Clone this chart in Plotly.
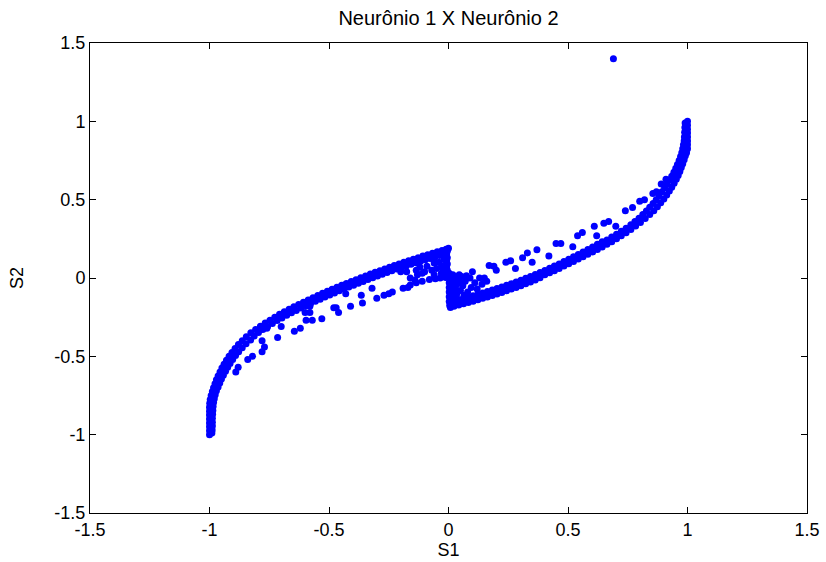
import plotly.graph_objects as go

# ---- Left branch: dense upper edge (row A) ----
left_upper_x = [-1.0, -1.0, -1.0, -1.0, -1.0, -1.0, -1.0, -1.0, -0.999, -0.997, -0.993, -0.988, -0.983, -0.977, -0.971, -0.964, -0.956, -0.948, -0.939, -0.929, -0.918, -0.906, -0.893, -0.879, -0.863, -0.846, -0.827, -0.807, -0.787, -0.767, -0.747, -0.727, -0.707, -0.687, -0.667, -0.647, -0.627, -0.607, -0.587, -0.567, -0.547, -0.527, -0.507, -0.487, -0.467, -0.447, -0.427, -0.407, -0.387, -0.367, -0.347, -0.327, -0.307, -0.287, -0.267, -0.247, -0.227, -0.207, -0.187, -0.167, -0.147, -0.127, -0.107, -0.087, -0.067, -0.047, -0.027, -0.01, 0.0]
left_upper_y = [-1.0, -0.975, -0.95, -0.925, -0.90, -0.875, -0.85, -0.825, -0.80, -0.775, -0.75, -0.725, -0.70, -0.675, -0.65, -0.625, -0.60, -0.575, -0.55, -0.525, -0.50, -0.475, -0.45, -0.425, -0.40, -0.375, -0.35, -0.328, -0.308, -0.288, -0.269, -0.25, -0.232, -0.215, -0.199, -0.184, -0.169, -0.154, -0.14, -0.126, -0.112, -0.098, -0.085, -0.072, -0.059, -0.047, -0.035, -0.023, -0.011, 0.001, 0.013, 0.025, 0.036, 0.047, 0.058, 0.069, 0.08, 0.09, 0.1, 0.11, 0.12, 0.13, 0.14, 0.149, 0.158, 0.167, 0.176, 0.184, 0.19]

# ---- Left branch: inner row of the dense band (row B) ----
left_inner_x = [-0.037, -0.057, -0.077, -0.097, -0.117, -0.137, -0.157, -0.177, -0.197, -0.217, -0.237, -0.257, -0.277, -0.297, -0.317, -0.337, -0.357, -0.377, -0.397, -0.417, -0.437, -0.457, -0.477, -0.497, -0.517, -0.537, -0.557, -0.577, -0.597, -0.617, -0.637, -0.657, -0.677, -0.697, -0.717, -0.737, -0.757, -0.777, -0.795, -0.813,
                -0.828, -0.847, -0.863, -0.878, -0.891, -0.903, -0.914, -0.924, -0.933, -0.942, -0.95, -0.957, -0.964, -0.971, -0.976, -0.98, -0.983, -0.985, -0.986, -0.987, -0.988, -0.988, -0.988, -0.989, -0.99]
left_inner_y = [0.143, 0.134, 0.125, 0.116, 0.107, 0.097, 0.087, 0.077, 0.067, 0.057, 0.046, 0.035, 0.024, 0.013, 0.002, -0.01, -0.022, -0.034, -0.046, -0.058, -0.07, -0.082, -0.095, -0.108, -0.121, -0.135, -0.149, -0.163, -0.177, -0.192, -0.207, -0.222, -0.238, -0.255, -0.272, -0.29, -0.309, -0.328, -0.348, -0.37,
                -0.395, -0.42, -0.445, -0.47, -0.495, -0.52, -0.545, -0.57, -0.595, -0.62, -0.645, -0.67, -0.695, -0.72, -0.745, -0.77, -0.795, -0.82, -0.845, -0.87, -0.895, -0.92, -0.945, -0.97, -0.99]

# ---- Left branch: vertical edge at S1 = 0, lower side and corner cluster ----
left_edge_x = [-0.005, -0.008, -0.005, -0.008, -0.005, -0.008, -0.005, -0.008, -0.005, -0.012, -0.02, -0.018, -0.02, -0.018, -0.025,
               -0.035, -0.055, -0.08, -0.11, -0.135, -0.16, -0.19, -0.235, -0.27, -0.30, -0.36, -0.41, -0.47,
               -0.04, -0.06, -0.05, -0.07, -0.03, -0.1, -0.13, -0.135, -0.175, -0.16, -0.11, -0.03, -0.06, -0.09, -0.12]
left_edge_y = [0.17, 0.15, 0.13, 0.11, 0.09, 0.07, 0.05, 0.03, 0.012, 0.003, 0.16, 0.12, 0.08, 0.04, 0.01,
               0.0, -0.005, -0.01, -0.02, -0.03, -0.045, -0.065, -0.09, -0.11, -0.13, -0.16, -0.18, -0.19,
               0.10, 0.095, 0.06, 0.05, 0.07, 0.04, 0.02, 0.05, 0.04, 0.0, 0.03, 0.03, 0.02, 0.075, 0.07]

# ---- Left branch: scattered inner points ----
left_scatter_x = [-0.84, -0.88, -0.78, -0.77, -0.78, -0.715, -0.70, -0.645, -0.62, -0.596, -0.57, -0.53, -0.58, -0.60, -0.48, -0.46, -0.365, -0.32, -0.43, -0.49, -0.435, -0.70, -0.76, -0.58, -0.25, -0.17, -0.14, -0.2, -0.82, -0.89]
left_scatter_y = [-0.52, -0.57, -0.47, -0.44, -0.40, -0.38, -0.31, -0.34, -0.32, -0.27, -0.27, -0.26, -0.22, -0.22, -0.19, -0.22, -0.11, -0.065, -0.10, -0.08, -0.045, -0.24, -0.32, -0.18, -0.10, -0.06, -0.015, 0.04, -0.50, -0.60]

# ---- Right branch: dense lower edge (row D) ----
right_lower_x = [0.008, 0.023, 0.043, 0.063, 0.083, 0.103, 0.123, 0.143, 0.163, 0.183, 0.203, 0.223, 0.243, 0.263, 0.283, 0.303, 0.323, 0.343, 0.363, 0.383, 0.403, 0.423, 0.443, 0.463, 0.483, 0.503, 0.523, 0.543, 0.563, 0.583, 0.603, 0.623, 0.643, 0.663, 0.683, 0.703, 0.723, 0.743, 0.763, 0.783, 0.803, 0.823, 0.842, 0.859, 0.874, 0.888, 0.901, 0.913, 0.924, 0.934, 0.944, 0.953, 0.961, 0.968, 0.974, 0.98, 0.986, 0.991, 0.996, 1.0, 1.0, 1.0, 1.0, 1.0, 1.0, 1.0, 1.0]
right_lower_y = [-0.188, -0.181, -0.173, -0.165, -0.157, -0.148, -0.139, -0.13, -0.121, -0.112, -0.102, -0.092, -0.082, -0.071, -0.06, -0.049, -0.037, -0.025, -0.013, 0.002, 0.02, 0.033, 0.047, 0.061, 0.076, 0.091, 0.106, 0.121, 0.136, 0.151, 0.166, 0.182, 0.198, 0.215, 0.232, 0.25, 0.269, 0.289, 0.31, 0.332, 0.355, 0.38, 0.405, 0.43, 0.455, 0.48, 0.505, 0.53, 0.555, 0.58, 0.605, 0.63, 0.655, 0.68, 0.705, 0.73, 0.755, 0.78, 0.80, 0.825, 0.85, 0.875, 0.90, 0.925, 0.95, 0.975, 1.0]

# ---- Right branch: inner row of the dense band (row E) ----
right_inner_x = [0.023, 0.043, 0.063, 0.083, 0.103, 0.123, 0.143, 0.163, 0.183, 0.203, 0.223, 0.243, 0.263, 0.283, 0.303, 0.323, 0.343, 0.363, 0.383, 0.403, 0.423, 0.443, 0.463, 0.483, 0.503, 0.523, 0.543, 0.563, 0.583, 0.603, 0.623, 0.643,
                 0.663, 0.683, 0.703, 0.723, 0.743, 0.763, 0.78, 0.797, 0.813, 0.828, 0.842, 0.856, 0.869, 0.881, 0.893, 0.904, 0.915, 0.925, 0.934, 0.943, 0.951, 0.958, 0.965, 0.971, 0.976, 0.98, 0.983, 0.986, 0.987, 0.988, 0.989, 0.99]
right_inner_y = [-0.146, -0.138, -0.130, -0.122, -0.113, -0.104, -0.095, -0.086, -0.077, -0.067, -0.057, -0.047, -0.036, -0.025, -0.014, -0.002, 0.010, 0.022, 0.035, 0.048, 0.062, 0.076, 0.09, 0.105, 0.12, 0.135, 0.15, 0.166, 0.182, 0.198, 0.215, 0.232,
                 0.243, 0.261, 0.279, 0.298, 0.318, 0.34, 0.36, 0.382, 0.405, 0.428, 0.452, 0.476, 0.5, 0.525, 0.55, 0.575, 0.60, 0.625, 0.65, 0.675, 0.70, 0.725, 0.75, 0.775, 0.80, 0.825, 0.85, 0.875, 0.90, 0.93, 0.96, 0.99]

# ---- Right branch: block near S1 = 0 ----
right_block_x = [0.003, 0.003, 0.003, 0.003, 0.003, 0.003, 0.003, 0.005, 0.018, 0.018, 0.018, 0.018, 0.018, 0.018, 0.02, 0.03, 0.035, 0.03, 0.035, 0.03, 0.045, 0.06, 0.05, 0.065, 0.08, 0.07, 0.095, 0.11, 0.09, 0.055, 0.075, 0.12, 0.14, 0.15, 0.13, 0.10, 0.16, 0.045]
right_block_y = [0.03, 0.0, -0.03, -0.06, -0.09, -0.12, -0.15, -0.175, 0.02, -0.02, -0.05, -0.08, -0.11, -0.14, -0.165, 0.0, -0.04, -0.07, -0.1, -0.13, -0.02, -0.05, -0.08, -0.11, -0.09, -0.02, -0.06, -0.03, 0.0, 0.01, 0.015, -0.07, -0.04, 0.0, 0.0, 0.04, -0.02, 0.02]

# ---- Right branch: scattered upper points ----
right_scatter_x = [0.17, 0.19, 0.24, 0.26, 0.31, 0.33, 0.37, 0.45, 0.47, 0.54, 0.56, 0.61, 0.65, 0.67, 0.74, 0.77, 0.80, 0.82, 0.855, 0.87, 0.91, 0.89, 0.20, 0.28, 0.35, 0.42, 0.52, 0.62, 0.70]
right_scatter_y = [0.08, 0.075, 0.10, 0.11, 0.13, 0.16, 0.18, 0.22, 0.22, 0.27, 0.29, 0.33, 0.35, 0.36, 0.43, 0.45, 0.49, 0.50, 0.54, 0.55, 0.63, 0.60, 0.05, 0.06, 0.10, 0.14, 0.20, 0.27, 0.33]

# ---- Isolated point ----
outlier_x = [0.69]
outlier_y = [1.40]

# Axis ticks
tick_vals = [-1.5, -1.0, -0.5, 0.0, 0.5, 1.0, 1.5]
tick_text = ["-1.5", "-1", "-0.5", "0", "0.5", "1", "1.5"]

all_x = (left_upper_x + left_inner_x + left_edge_x + left_scatter_x +
         right_lower_x + right_inner_x + right_block_x + right_scatter_x + outlier_x)
all_y = (left_upper_y + left_inner_y + left_edge_y + left_scatter_y +
         right_lower_y + right_inner_y + right_block_y + right_scatter_y + outlier_y)

FONT = "Liberation Sans, Arial, sans-serif"

fig = go.Figure()
fig.add_trace(go.Scatter(
    x=all_x, y=all_y, mode="markers",
    marker=dict(color="#0000ff", size=7, line=dict(width=0)),
    showlegend=False, hoverinfo="skip",
))

axis_common = dict(
    range=[-1.5, 1.5], tickmode="array", tickvals=tick_vals, ticktext=tick_text,
    ticks="inside", ticklen=6, tickwidth=1, tickcolor="black",
    showline=True, linecolor="black", linewidth=1, mirror="ticks",
    showgrid=False, zeroline=False, automargin=False,
    tickfont=dict(family=FONT, size=18, color="black"),
)

fig.update_layout(
    width=826, height=562,
    margin=dict(l=90, r=19, t=43, b=49),
    paper_bgcolor="white", plot_bgcolor="white",
    font=dict(family=FONT, size=18, color="black"),
    title=dict(text="Neurônio 1 X Neurônio 2", xref="paper", x=0.5, xanchor="center",
               yref="container", y=1 - 18 / 562, yanchor="middle",
               font=dict(family=FONT, size=20, color="black")),
    xaxis=dict(**axis_common, title=dict(text="S1", standoff=3,
               font=dict(family=FONT, size=18, color="black"))),
    yaxis=dict(**axis_common, title=dict(text="S2", standoff=26,
               font=dict(family=FONT, size=18, color="black"))),
)

fig.write_html("out.html")
